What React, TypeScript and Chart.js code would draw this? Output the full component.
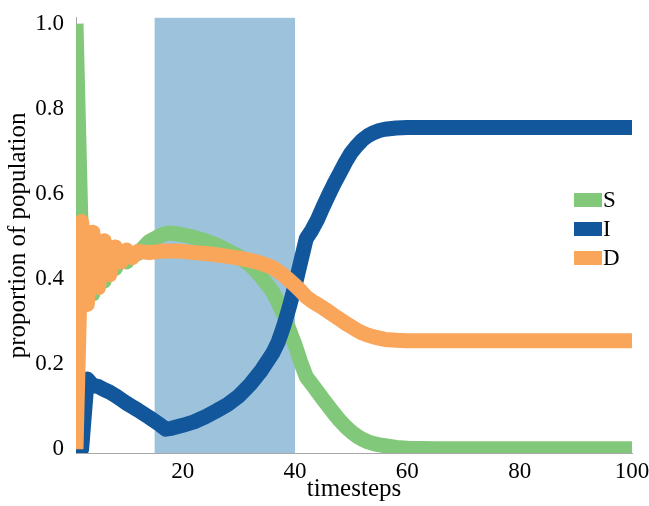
import React, { useEffect, useRef } from "react";
import { Chart, registerables } from "chart.js";

Chart.register(...registerables);

// ---- data ----
const TIMESTEPS = [1, 2, 3, 4, 5, 6, 7, 8, 9, 10, 11, 12, 14, 16, 17, 18, 20, 22, 24, 26, 28, 30, 32, 34, 36, 37, 38, 39, 40, 41, 42, 43, 44, 45, 46, 47, 48, 49, 50, 51, 52, 53, 54, 55, 56, 58, 60, 65, 70, 80, 90, 100];

const S_VALUES = [1.0, 0.465, 0.51, 0.365, 0.48, 0.395, 0.46, 0.425, 0.455, 0.44, 0.458, 0.46, 0.488, 0.502, 0.507, 0.508, 0.504, 0.498, 0.49, 0.48, 0.467, 0.453, 0.433, 0.405, 0.37, 0.345, 0.315, 0.28, 0.245, 0.205, 0.17, 0.153, 0.135, 0.117, 0.1, 0.083, 0.067, 0.053, 0.041, 0.031, 0.023, 0.017, 0.013, 0.01, 0.008, 0.004, 0.002, 0.001, 0.001, 0.001, 0.001, 0.001];

const I_VALUES = [0, 0, 0.165, 0.15, 0.147, 0.14, 0.134, 0.126, 0.117, 0.108, 0.1, 0.092, 0.075, 0.057, 0.047, 0.049, 0.056, 0.064, 0.076, 0.09, 0.105, 0.125, 0.152, 0.185, 0.225, 0.252, 0.29, 0.335, 0.385, 0.44, 0.495, 0.515, 0.54, 0.57, 0.598, 0.625, 0.65, 0.675, 0.697, 0.713, 0.727, 0.737, 0.744, 0.749, 0.752, 0.755, 0.756, 0.756, 0.756, 0.756, 0.756, 0.756];

const D_VALUES = [0, 0.535, 0.34, 0.51, 0.38, 0.49, 0.41, 0.475, 0.44, 0.468, 0.45, 0.465, 0.462, 0.465, 0.466, 0.466, 0.465, 0.462, 0.46, 0.457, 0.453, 0.449, 0.444, 0.437, 0.427, 0.418, 0.408, 0.397, 0.385, 0.372, 0.358, 0.348, 0.34, 0.332, 0.323, 0.314, 0.305, 0.296, 0.288, 0.28, 0.273, 0.268, 0.264, 0.261, 0.258, 0.256, 0.255, 0.255, 0.255, 0.255, 0.255, 0.255];

const SERIES_NAMES = ["S", "I", "D"];
const SHADE_RANGE = [15, 40];
const X_TICKS = [20, 40, 60, 80, 100];
const Y_TICKS = [0, 0.2, 0.4, 0.6, 0.8, 1.0];
const Y_TICK_LABELS = ["0", "0.2", "0.4", "0.6", "0.8", "1.0"];
const X_TITLE = "timesteps";
const Y_TITLE = "proportion of population";

// ---- styles ----
const FONT = '"Liberation Serif", Tinos, "Times New Roman", Times, serif';
const COLORS: Record<string, string> = { S: "#82c87a", I: "#12579b", D: "#f9a65a" };
const ORDERS: Record<string, number> = { S: 3, I: 2, D: 1 };
const SHADE_COLOR = "#9dc3dc";
const AXIS_COLOR = "#a8a8a8";

Chart.defaults.font.family = FONT;

const shadePlugin = {
  id: "shadeBand",
  beforeDatasetsDraw(chart: any) {
    const { ctx, chartArea, scales } = chart;
    const x0 = scales.x.getPixelForValue(SHADE_RANGE[0]);
    const x1 = scales.x.getPixelForValue(SHADE_RANGE[1]);
    ctx.save();
    ctx.fillStyle = SHADE_COLOR;
    ctx.fillRect(x0, chartArea.top, x1 - x0, chartArea.bottom - chartArea.top);
    ctx.restore();
  },
};

const legendPlugin = {
  id: "customLegend",
  afterDraw(chart: any) {
    const ctx = chart.ctx;
    ctx.save();
    ctx.font = `23px ${FONT}`;
    ctx.textBaseline = "middle";
    ctx.textAlign = "left";
    SERIES_NAMES.forEach((name, i) => {
      const ds = chart.data.datasets.find((d: any) => d.label === name);
      const cy = 200 + i * 29;
      ctx.fillStyle = ds.borderColor;
      ctx.fillRect(574, cy - 7, 28, 14);
      ctx.fillStyle = "#000";
      ctx.fillText(name, 603, cy + 1);
    });
    ctx.restore();
  },
};

const SERIES_VALUES: Record<string, number[]> = { S: S_VALUES, I: I_VALUES, D: D_VALUES };

export default function App() {
  const canvasRef = useRef<HTMLCanvasElement | null>(null);

  useEffect(() => {
    let chart: Chart | null = null;
    let cancelled = false;

    const build = () => {
      if (cancelled || !canvasRef.current) return;
      const datasets = SERIES_NAMES.map((name) => ({
        label: name,
        data: TIMESTEPS.map((t, i) => ({ x: t, y: SERIES_VALUES[name][i] })),
        borderColor: COLORS[name],
        backgroundColor: COLORS[name],
        borderWidth: 15,
        pointRadius: 0,
        tension: 0,
        borderJoinStyle: "round" as const,
        borderCapStyle: "butt" as const,
        fill: false,
        clip: 0,
        order: ORDERS[name],
      }));

      chart = new Chart(canvasRef.current, {
        type: "line",
        data: { datasets },
        options: {
          animation: false,
          responsive: true,
          maintainAspectRatio: false,
          layout: { padding: { top: 7, right: 17, left: 0, bottom: 0 } },
          plugins: {
            legend: { display: false },
            tooltip: { enabled: false },
          },
          scales: {
            x: {
              type: "linear",
              min: 1,
              max: 100,
              afterBuildTicks: (s: any) => {
                s.ticks = X_TICKS.map((v) => ({ value: v }));
              },
              afterFit: (s: any) => {
                s.height = 53;
              },
              grid: { display: false },
              border: { display: true, color: AXIS_COLOR, width: 1 },
              ticks: {
                color: "#000",
                font: { family: FONT, size: 23 },
                padding: -3,
                maxRotation: 0,
                autoSkip: false,
                callback: (v: any) => String(v),
              },
              title: {
                display: true,
                text: X_TITLE,
                color: "#000",
                font: { family: FONT, size: 25 },
                padding: { top: 0, bottom: 2 },
              },
            },
            y: {
              type: "linear",
              min: -0.009,
              max: 1.014,
              afterBuildTicks: (s: any) => {
                s.ticks = Y_TICKS.map((v) => ({ value: v }));
              },
              afterFit: (s: any) => {
                s.width = 76;
              },
              grid: { display: false },
              border: { display: true, color: AXIS_COLOR, width: 1 },
              ticks: {
                color: "#000",
                font: { family: FONT, size: 23 },
                padding: 4,
                autoSkip: false,
                callback: (v: any) => {
                  const idx = Y_TICKS.findIndex((t) => Math.abs(t - v) < 1e-9);
                  return idx >= 0 ? Y_TICK_LABELS[idx] : "";
                },
              },
              title: {
                display: true,
                text: Y_TITLE,
                color: "#000",
                font: { family: FONT, size: 25 },
                padding: { top: 3, bottom: 0 },
              },
            },
          },
        },
        plugins: [shadePlugin, legendPlugin],
      });
    };

    const fontsApi: any = (document as any).fonts;
    if (fontsApi && fontsApi.load) {
      Promise.all([
        fontsApi.load('23px "Liberation Serif"'),
        fontsApi.load('25px "Liberation Serif"'),
      ])
        .catch(() => undefined)
        .then(() => build());
    } else {
      build();
    }

    return () => {
      cancelled = true;
      if (chart) chart.destroy();
    };
  }, []);

  return (
    <div style={{ position: "fixed", left: 0, top: 0, width: 649, height: 506, background: "#fff" }}>
      <canvas ref={canvasRef} />
    </div>
  );
}
